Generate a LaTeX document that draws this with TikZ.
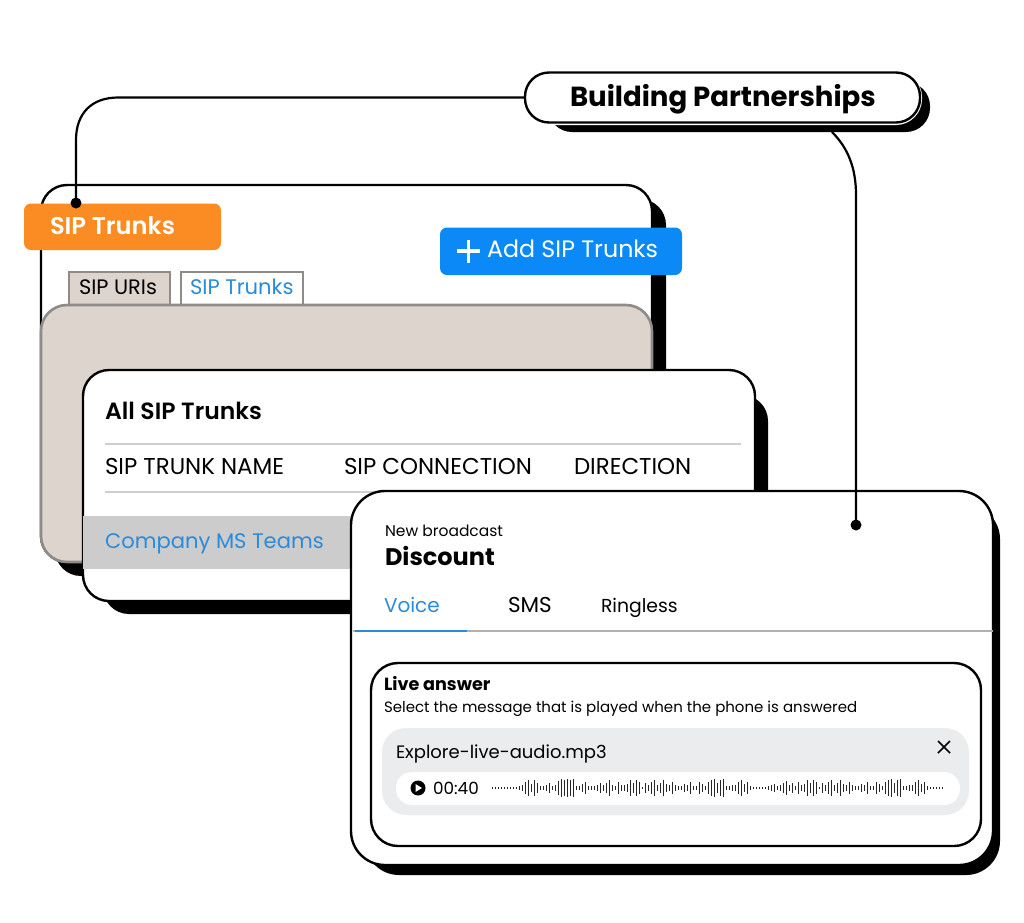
\documentclass[tikz,border=0pt]{standalone}
\usepackage{fontspec}
\setmainfont{Poppins}
\definecolor{ink}{HTML}{000000}
\definecolor{beige}{HTML}{DDD5CD}
\definecolor{beigeline}{HTML}{8F8B87}
\definecolor{orangebox}{HTML}{FB8C23}
\definecolor{bluebox}{HTML}{0A89F7}
\definecolor{linkblue}{HTML}{2B8BDB}
\definecolor{rowgrey}{HTML}{CCCCCC}
\definecolor{rule}{HTML}{CFCFCF}
\definecolor{pillgrey}{HTML}{EAECEE}
\newcommand{\fs}[1]{\fontsize{#1}{#1}\selectfont}
\tikzset{
  x=1pt,y=-1pt,
  card/.style={draw=ink,line width=2.4pt,fill=white},
  shadowbox/.style={fill=ink,draw=none},
  txt/.style={anchor=base west,inner sep=0pt,outer sep=0pt},
  tabbox/.style={draw=beigeline,line width=2.2pt},
  thinrule/.style={draw=rule,line width=2.2pt},
  link/.style={draw=ink,line width=2.2pt},
}
\begin{document}
\begin{tikzpicture}
\useasboundingbox[fill=white] (0,0) rectangle (1024,922);
% back card
\fill[shadowbox,rounded corners=26pt] (55,199) rectangle (666,576);
\draw[card,rounded corners=26pt] (41,185) rectangle (652,562);
% tabs
\draw[tabbox,fill=beige] (69,306) |- (170,272) -- (170,306);
\draw[tabbox,fill=white] (181,306) |- (303,272) -- (303,306);
\node[txt,text=black] (uris) at (79,294) {\fs{20.9}SIP URIs};
\node[txt,text=linkblue] (tabtrunks) at (190,294) {\fs{21.1}SIP Trunks};
% beige panel
\draw[draw=beigeline,line width=2.6pt,fill=beige,rounded corners=26pt] (41,305) rectangle (652,562);
% middle card
\fill[shadowbox,rounded corners=26pt] (103,395) rectangle (768,614);
\draw[card,rounded corners=26pt] (83,370) rectangle (755,601);
\node[txt] (all) at (105,419.5) {\fs{23.5}\fontspec{Poppins SemiBold}All SIP Trunks};
\draw[thinrule] (105,444) -- (741,444);
\node[txt] (h1) at (105,474.5) {\fs{22.9}SIP TRUNK NAME};
\node[txt] (h2) at (344,474.5) {\fs{22.9}SIP CONNECTION};
\node[txt] (h3) at (574,474.5) {\fs{22.9}DIRECTION};
\draw[thinrule] (105,492) -- (741,492);
\fill[rowgrey] (83,516) rectangle (360,569);
\node[txt,text=linkblue] (company) at (105,548.5) {\fs{21.1}Company MS Teams};
% front card
\fill[shadowbox,rounded corners=34pt] (365,505) rectangle (1000,875);
\draw[card,rounded corners=34pt] (351,491) rectangle (993,865);
\node[txt] (newb) at (385,536) {\fs{15.5}New broadcast};
\node[txt] (disc) at (385,565) {\fs{24}\fontspec{Poppins Bold}Discount};
\node[txt,text=linkblue] (voice) at (384,612) {\fs{20}Voice};
\node[txt] (sms) at (508,612) {\fs{21.5}SMS};
\node[txt] (ring) at (601,612) {\fs{18.8}Ringless};
\draw[draw=rule!85!black,line width=2.6pt] (353,631) -- (993,631);
\draw[draw=linkblue,line width=2.8pt] (355,631) -- (467,631);
% live answer
\draw[draw=ink,line width=2.4pt,fill=white,rounded corners=27pt] (371,663) rectangle (981,846);
\node[txt] (live) at (384,690) {\fs{17.6}\fontspec{Poppins Bold}Live answer};
\node[txt] (sel) at (384,712) {\fs{15}Select the message that is played when the phone is answered};
\fill[pillgrey,rounded corners=24pt] (382,728) rectangle (969,815);
\node[txt] (file) at (396,758) {\fs{18}Explore-live-audio.mp3};
\draw[ink,line width=1.6pt] (938,741) -- (950,753) (950,741) -- (938,753);
\fill[white,rounded corners=16pt] (396,772) rectangle (960,805);
\fill[ink] (418,788) circle (7.5);
\fill[white] (415.5,784) -- (415.5,792) -- (422,788) -- cycle;
\node[txt] (time) at (433,794) {\fs{16.8}00:40};
\foreach \h [count=\i from 0] in {1,1,1,1,1,1,1,1,1,2,3,6,8,4,8,5,2,2,3,5,2,3,7,9,8,9,8,9,2,2,4,6,2,2,2,3,5,3,5,8,3,2,6,3,3,4,8,5,8,6,1,5,3,6,8,3,5,8,4,3,6,3,2,2,4,3,6,2,2,6,4,2,6,8,9,5,8,9,2,2,3,3,6,8,4,6,2,1,1,1,1,1,2,3,4,2,3,5,7,3,5,2,6,3,4,8,5,8,6,1,5,3,6,8,3,5,8,4,3,6,3,2,2,4,3,6,2,2,6,4,2,6,8,9,5,8,9,2,2,3,3,6,8,4,6,2,1,1,1,1,1}{
  \draw[ink!85,line width=1pt] ({492+\i*3},{788-\h*1}) -- ({492+\i*3},{788+\h*1});
}
% callouts
\fill[orangebox,rounded corners=7pt] (24,203.5) rectangle (221,250);
\node[txt,text=white] (sip) at (50,234) {\fs{24.2}\fontspec{Poppins SemiBold}SIP Trunks};
\fill[bluebox,rounded corners=7pt] (440,227.5) rectangle (682,275);
\draw[white,line width=3.4pt] (457,251) -- (480,251) (468.5,239.5) -- (468.5,262.5);
\node[txt,text=white] (add) at (487,257) {\fs{23.75}Add SIP Trunks};
% building partnerships pill
\fill[shadowbox,rounded corners=24pt] (548,82) rectangle (930,132);
\draw[white,line width=4pt,rounded corners=24pt] (525,73) rectangle (920,123);
\node[draw=ink,line width=2.4pt,fill=white,rounded corners=24pt,minimum width=395pt,minimum height=50pt,inner sep=0pt] (bp) at (722.5,97.5) {};
\node[txt] (bptext) at (570,106) {\fs{27.6}\fontspec{Poppins Bold}Building Partnerships};
% connectors
\coordinate (leftend) at (76,203);
\coordinate (rightstart) at (832,132);
\coordinate (rightend) at (856,525);
\draw[link] (bp.west) -- (118,97.5) .. controls (92,97.5) and (76,113) .. (76,140) -- (leftend);
\fill[ink] (leftend) circle (5.5);
\draw[link] (rightstart) .. controls (848,148) and (856,168) .. (856,195) -- (rightend);
\fill[ink] (rightend) circle (5.5);
\end{tikzpicture}
\end{document}
